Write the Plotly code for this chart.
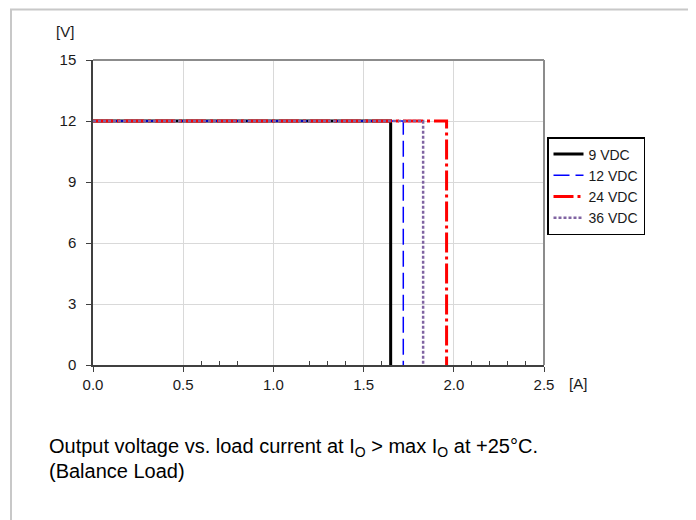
import plotly.graph_objects as go

# ---- data ----
series_names = ["9 VDC", "12 VDC", "24 VDC", "36 VDC"]
limit_current = [1.65, 1.72, 1.96, 1.83]   # A, current-limit point for each input
output_voltage = [12, 12, 12, 12]          # V
x_ticks = [0.0, 0.5, 1.0, 1.5, 2.0, 2.5]
x_tick_labels = ["0.0", "0.5", "1.0", "1.5", "2.0", "2.5"]
x_minor = [0.6, 0.7, 0.8, 1.2, 1.3, 1.4, 1.6, 2.1, 2.2, 2.3, 2.4]
y_ticks = [0, 3, 6, 9, 12, 15]

colors = ["#000000", "#0000FF", "#FF0000", "#8064A2"]
dashes = ["solid", "16px,6px", "20px,4px,3px,4px", "3px,2px"]
widths = [3, 1.5, 3, 2.5]

fig = go.Figure()
for name, i_lim, v, c, d, w in zip(series_names, limit_current, output_voltage, colors, dashes, widths):
    fig.add_trace(go.Scatter(
        x=[0, i_lim, i_lim], y=[v, v, 0], mode="lines", name=name,
        line=dict(color=c, dash=d, width=w),
    ))

FONT = "Liberation Sans, Arial, sans-serif"
OFF = 8                      # page offset of the figure (body margin)
W, H = 696, 520
# plot area in page pixels: left 93, right 544, top 60, bottom 365
L, R, T, B = 93 - OFF, W - (544 - OFF), 60 - OFF, H - (365 - OFF)
pw, ph = W - L - R, H - T - B

def px_x(p):
    return (p - OFF - L) / pw

def px_y(p):
    return (H - B - (p - OFF)) / ph

TXT = "#1a1a1a"

fig.update_layout(
    width=W, height=H,
    margin=dict(l=L, r=R, t=T, b=B, pad=0),
    paper_bgcolor="white", plot_bgcolor="white",
    font=dict(family=FONT, size=15, color=TXT),
    showlegend=True,
    legend=dict(
        x=px_x(547), y=px_y(137), xanchor="left", yanchor="top",
        bgcolor="white", bordercolor="#000000", borderwidth=1.5,
        font=dict(family=FONT, size=14, color=TXT),
        itemwidth=30, tracegroupgap=0,
    ),
    xaxis=dict(
        range=[0, 2.5], tickmode="array", tickvals=x_ticks, ticktext=x_tick_labels,
        showgrid=True, gridcolor="#D9D9D9", gridwidth=1,
        showline=True, linecolor="#404040", linewidth=1.5,
        ticks="outside", ticklen=5, tickcolor="#404040", tickwidth=1.2,
        zeroline=False, fixedrange=True,
        minor=dict(tickmode="array", tickvals=x_minor, ticks="inside", ticklen=4,
                   tickcolor="#404040", tickwidth=1, showgrid=False),
        tickfont=dict(family=FONT, size=15, color=TXT),
    ),
    yaxis=dict(
        range=[0, 15], tickmode="array", tickvals=y_ticks,
        showgrid=True, gridcolor="#D9D9D9", gridwidth=1,
        showline=True, linecolor="#404040", linewidth=1.5,
        ticks="outside", ticklen=5, tickcolor="#404040", tickwidth=1.2,
        ticklabelstandoff=7,
        zeroline=False, fixedrange=True,
        tickfont=dict(family=FONT, size=15, color=TXT),
    ),
    shapes=[
        # top and right plot border (gray)
        dict(type="line", xref="paper", yref="paper", x0=0, x1=1, y0=1, y1=1,
             line=dict(color="#8C8C8C", width=2)),
        dict(type="line", xref="paper", yref="paper", x0=1, x1=1, y0=0, y1=1,
             line=dict(color="#8C8C8C", width=2)),
        # outer frame
        dict(type="rect", xref="paper", yref="paper",
             x0=px_x(11), x1=px_x(693), y0=px_y(540), y1=px_y(9.5),
             line=dict(color="#C8C8C8", width=2), layer="below"),
    ],
    annotations=[
        dict(text="[V]", xref="paper", yref="paper", x=px_x(65), y=px_y(31),
             xanchor="center", yanchor="middle", showarrow=False,
             font=dict(family=FONT, size=15, color=TXT)),
        dict(text="[A]", xref="paper", yref="paper", x=px_x(578), y=px_y(383),
             xanchor="center", yanchor="middle", showarrow=False,
             font=dict(family=FONT, size=15, color=TXT)),
        dict(text="Output voltage vs. load current at I<sub>O</sub> &gt; max I<sub>O</sub> at +25°C.",
             xref="paper", yref="paper", x=px_x(47), y=px_y(447),
             xanchor="left", yanchor="middle", align="left", showarrow=False,
             font=dict(family=FONT, size=20, color="#000000")),
        dict(text="(Balance Load)",
             xref="paper", yref="paper", x=px_x(47), y=px_y(471),
             xanchor="left", yanchor="middle", align="left", showarrow=False,
             font=dict(family=FONT, size=20, color="#000000")),
    ],
)

fig.write_html("out.html")
